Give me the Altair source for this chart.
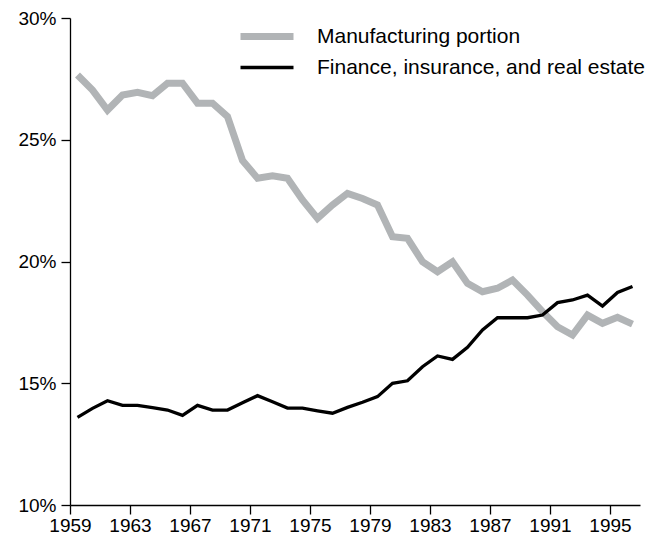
import altair as alt
import pandas as pd

years = list(range(1959, 1997))
manufacturing = [27.66, 27.04, 26.22, 26.84, 26.95, 26.81, 27.32, 27.32, 26.50, 26.50,
                 25.95, 24.15, 23.42, 23.52, 23.42, 22.53, 21.77, 22.32, 22.80, 22.59,
                 22.32, 21.02, 20.95, 19.99, 19.58, 19.99, 19.10, 18.76, 18.90, 19.24,
                 18.62, 17.94, 17.32, 16.98, 17.80, 17.46, 17.71, 17.43]
finance = [13.60, 13.97, 14.28, 14.09, 14.09, 14.00, 13.90, 13.68, 14.09, 13.90,
           13.90, 14.20, 14.49, 14.24, 13.98, 13.98, 13.87, 13.77, 14.01, 14.22,
           14.45, 15.00, 15.10, 15.68, 16.12, 15.98, 16.48, 17.19, 17.69, 17.69,
           17.69, 17.80, 18.31, 18.42, 18.62, 18.17, 18.73, 18.97]
series_names = ["Manufacturing portion", "Finance, insurance, and real estate"]
x_ticks = list(range(1959, 1997, 4))
y_ticks = [10, 15, 20, 25, 30]

rows = []
for name, vals in zip(series_names, [manufacturing, finance]):
    for y, v in zip(years, vals):
        rows.append({"series": name, "x": y + 0.5, "value": v})
df = pd.DataFrame(rows)

font = "Liberation Sans"

legend_kw = dict(title=None, orient="none", legendX=167, legendY=3,
                 symbolType="stroke", symbolSize=2809, clipHeight=31,
                 labelFontSize=21, labelFont=font, labelColor="black",
                 labelOffset=20, rowPadding=0, labelLimit=0)

chart = alt.Chart(df).mark_line(strokeCap="butt", strokeJoin="miter").encode(
    x=alt.X("x:Q", scale=alt.Scale(domain=[1959, 1997], nice=False, zero=False),
            axis=alt.Axis(values=x_ticks, format="d", title=None, grid=False,
                          tickSize=9, labelPadding=2, labelFontSize=19,
                          labelFont=font, labelColor="black", domainColor="black",
                          tickColor="black", labelFlush=False, labelOverlap=False)),
    y=alt.Y("value:Q", scale=alt.Scale(domain=[10, 30], nice=False, zero=False),
            axis=alt.Axis(values=y_ticks, labelExpr="datum.value + '%'", title=None,
                          grid=False, tickSize=9, labelPadding=5, labelFontSize=19,
                          labelFont=font, labelColor="black", domainColor="black",
                          tickColor="black")),
    color=alt.Color("series:N",
                    scale=alt.Scale(domain=series_names, range=["#b1b4b6", "#000000"]),
                    legend=alt.Legend(**legend_kw)),
    strokeWidth=alt.StrokeWidth("series:N",
                                scale=alt.Scale(domain=series_names, range=[7, 3.3]),
                                legend=alt.Legend(**legend_kw)),
).properties(
    width=570, height=487,
    autosize=alt.AutoSizeParams(type="none"),
    padding={"left": 62, "top": 10, "right": 14, "bottom": 32},
).configure_view(stroke=None).configure_axis(domainWidth=1.3, tickWidth=1.3)

chart.save("out.html", embed_options={"renderer": "svg", "actions": False})
